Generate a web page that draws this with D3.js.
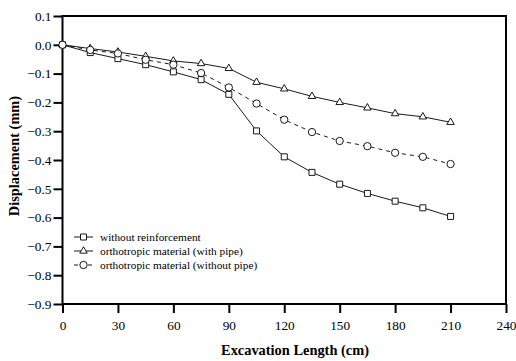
<!doctype html>
<html lang="en">
<head>
<meta charset="utf-8">
<title>Displacement vs Excavation Length</title>
<script src="https://cdn.jsdelivr.net/npm/d3@7"></script>
<style>
  body { margin: 0; background: #fff; }
</style>
</head>
<body>
<script>
// excavation steps (cm)
var lengths = [0, 15, 30, 45, 60, 75, 90, 105, 120, 135, 150, 165, 180, 195, 210];

// displacement (mm)
var noReinf   = [0, -0.027, -0.048, -0.069, -0.094, -0.121, -0.172, -0.299, -0.389, -0.443, -0.484, -0.516, -0.543, -0.566, -0.596];
var withPipe  = [0, -0.013, -0.025, -0.040, -0.056, -0.065, -0.082, -0.130, -0.153, -0.179, -0.200, -0.219, -0.239, -0.250, -0.269];
var noPipe    = [0, -0.018, -0.030, -0.052, -0.069, -0.098, -0.148, -0.204, -0.260, -0.303, -0.334, -0.352, -0.375, -0.389, -0.414];

var xTicks = [0, 30, 60, 90, 120, 150, 180, 210, 240];
var yTicks = [0.1, 0, -0.1, -0.2, -0.3, -0.4, -0.5, -0.6, -0.7, -0.8, -0.9];

var series = [
    {name: "without reinforcement", values: noReinf, symbol: d3.symbolSquare, size: 36, dash: null},
    {name: "orthotropic material (with pipe)", values: withPipe, symbol: d3.symbolTriangle, size: 24, dash: null},
    {name: "orthotropic material (without pipe)", values: noPipe, symbol: d3.symbolCircle, size: 42, dash: "4,4"}
];

var W = 516, H = 361;
var margin = {left: 62.5, top: 16, right: 10, bottom: 57};
var FONT = "Liberation Serif";

var svg = d3.select("body").append("svg")
    .attr("width", W).attr("height", H)
    .attr("font-family", FONT);

var x = d3.scaleLinear().domain([0, 240]).range([margin.left, W - margin.right]);
var y = d3.scaleLinear().domain([-0.9, 0.1]).range([H - margin.bottom, margin.top]);

// frame
svg.append("rect")
    .attr("x", x(0)).attr("y", y(0.1))
    .attr("width", x(240) - x(0)).attr("height", y(-0.9) - y(0.1))
    .attr("fill", "none").attr("stroke", "#000").attr("stroke-width", 2);

var yAxis = svg.append("g")
    .attr("transform", "translate(" + x(0) + ",0)")
    .call(d3.axisLeft(y).tickValues(yTicks).tickFormat(d3.format(".1f")).tickSize(9).tickPadding(2));
var xAxis = svg.append("g")
    .attr("transform", "translate(0," + y(-0.9) + ")")
    .call(d3.axisBottom(x).tickValues(xTicks).tickFormat(d3.format("d")).tickSize(9).tickPadding(8));

[xAxis, yAxis].forEach(function(g){
    g.attr("font-family", FONT).attr("font-size", 13.3);
    g.select(".domain").remove();
    g.selectAll("line").attr("stroke", "#000").attr("stroke-width", 2);
    g.selectAll("text").attr("fill", "#000");
});

// axis titles
svg.append("text")
    .attr("x", 295).attr("y", 355)
    .attr("text-anchor", "middle")
    .attr("font-size", 14.4).attr("font-weight", "bold")
    .text("Excavation Length (cm)");
svg.append("text")
    .attr("transform", "translate(19,156) rotate(-90)")
    .attr("text-anchor", "middle")
    .attr("font-size", 14.4).attr("font-weight", "bold")
    .text("Displacement (mm)");

var line = d3.line()
    .x(function(d, i){ return x(lengths[i]); })
    .y(function(d){ return y(d); });

series.forEach(function(s){
    svg.append("path")
        .attr("d", line(s.values))
        .attr("fill", "none").attr("stroke", "#000").attr("stroke-width", 0.9)
        .attr("stroke-dasharray", s.dash);
    svg.append("g").selectAll("path")
        .data(s.values)
        .enter().append("path")
        .attr("transform", function(d, i){ return "translate(" + x(lengths[i]) + "," + y(d) + ")"; })
        .attr("d", d3.symbol().type(s.symbol).size(s.size))
        .attr("fill", "#fff").attr("stroke", "#000").attr("stroke-width", 0.9);
});

// legend
var legend = svg.append("g").attr("transform", "translate(74,237)");
series.forEach(function(s, i){
    var g = legend.append("g").attr("transform", "translate(0," + (i * 14) + ")");
    g.append("line").attr("x1", 0).attr("x2", 19).attr("y1", 0).attr("y2", 0)
        .attr("stroke", "#000").attr("stroke-width", 0.9).attr("stroke-dasharray", s.dash ? "4,3" : null);
    g.append("path").attr("transform", "translate(9.5,0)")
        .attr("d", d3.symbol().type(s.symbol).size(s.size))
        .attr("fill", "#fff").attr("stroke", "#000").attr("stroke-width", 0.9);
    g.append("text").attr("x", 26).attr("y", 4)
        .attr("font-size", 11.3)
        .text(s.name);
});
</script>
</body>
</html>
